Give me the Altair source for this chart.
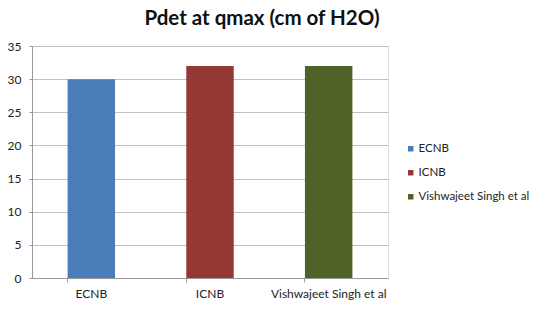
import altair as alt
import pandas as pd

categories = ["ECNB", "ICNB", "Vishwajeet Singh et al"]
values = [30, 32, 32]
colors = ["#4A7EBB", "#953735", "#4F6228"]
y_ticks = [0, 5, 10, 15, 20, 25, 30, 35]

df = pd.DataFrame({"cat": categories, "val": values})
FONT = "Lato"

chart = alt.Chart(df).mark_bar().encode(
    x=alt.X("cat:N", sort=categories,
            scale=alt.Scale(paddingInner=0.6, paddingOuter=0.3),
            axis=alt.Axis(title=None, labelAngle=0, bandPosition=0,
                          tickSize=4, labelPadding=6, domainColor="#999999",
                          tickColor="#999999", labelFontSize=12,
                          labelColor="#222222", grid=False, labelFont=FONT)),
    y=alt.Y("val:Q", scale=alt.Scale(domain=[0, 35]),
            axis=alt.Axis(title=None, values=y_ticks, tickSize=3,
                          labelPadding=8, domainColor="#999999",
                          tickColor="#999999", gridColor="#C0C0C0",
                          labelFontSize=12, labelColor="#222222",
                          labelFont=FONT)),
    color=alt.Color("cat:N", sort=categories,
                    scale=alt.Scale(domain=categories, range=colors),
                    legend=alt.Legend(title=None, orient="none",
                                      legendX=373, legendY=97,
                                      symbolType="square", symbolSize=30,
                                      symbolStrokeWidth=0, labelOffset=2,
                                      labelFontSize=11.5, labelFont=FONT,
                                      labelColor="#222222",
                                      rowPadding=11, padding=0)),
).properties(
    width=356, height=232,
    title=alt.TitleParams("Pdet at qmax (cm of H2O)", fontSize=20.5,
                          font=FONT, fontWeight="bold", color="#111111",
                          anchor="middle", dx=52, offset=11),
    autosize=alt.AutoSizeParams(type="none"),
    padding={"left": 32, "top": 46, "right": 150, "bottom": 32},
).configure_view(stroke=None).configure(background="white")

chart.save("out.html", embed_options={"renderer": "svg", "actions": False})
